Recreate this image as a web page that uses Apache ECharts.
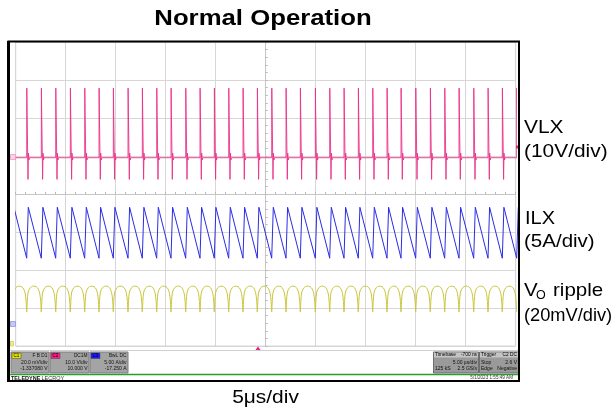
<!DOCTYPE html>
<html><head><meta charset="utf-8">
<script src="https://cdn.jsdelivr.net/npm/echarts@6/dist/echarts.min.js"></script>
<style>html,body{margin:0;padding:0;background:#fff}#c{width:614px;height:415px}</style>
</head><body><div id="c"></div>
<script>
// ---------- data read from the scope screen ----------
// switching instants (us from left edge of graticule, 5 us/div); first and last lie just off-screen
const switchTimes = [-0.34, 1.10, 2.56, 4.00, 5.46, 6.90, 8.33, 9.76, 11.23, 12.66, 14.10, 15.53, 17.00,
  18.43, 19.86, 21.30, 22.73, 24.16, 25.60, 27.03, 28.46, 29.96, 31.40, 32.83, 34.26, 35.70, 37.13,
  38.53, 40.00, 41.46, 42.90, 44.33, 45.80, 47.23, 48.66, 50.10];
// VLX pulse after each switching instant: time offset (us) and level (V)
const vlxPulseOffsets = [0, 0.01, 0.04, 0.11, 0.13, 0.17, 0.22, 0.28];
const vlxPulseVolts   = [0, 18.3, 12.0, 11.5, -5.7, 1.2, -0.6, 0];
// ILX: valley at the switching instant, peak right after it (A)
const ilxValleyAmps = [8.8];
const ilxPeakAmps = [15.5];
const ilxRiseUs = [0.16];
// Vo ripple arch between two switching instants: phase (fraction of period) and level (mV)
const voArchPhase = [0, 0.04, 0.10, 0.25, 0.45, 0.65, 0.80, 0.90, 0.96];
const voArchMilliVolts = [1275.0, 1281.0, 1285.5, 1287.8, 1288.6, 1288.3, 1287.0, 1284.5, 1280.5];
// channel scale / screen-centre values (from readout + trace positions)
const vlxPerDiv = 10, vlxCentre = -9.55;       // V
const ilxPerDiv = 5, ilxCentre = 17.25;        // A
const voPerDiv = 20, voCentre = 1337.08;       // mV
const timeSpanUs = [0, 50];
// texts
const titleText = 'Normal Operation';
const timeScaleText = '5\u03bcs/div';
const c1Readout = ['C1', 'F B D1', '20.0 mV/div', '-1.337080 V'];
const c2Readout = ['C2', 'DC1M', '10.0 V/div', '10.000 V'];
const c3Readout = ['C3', 'BwL DC', '5.00 A/div', '-17.250 A'];
const timebaseReadout = ['Timebase', '-700 ns', '5.00 \u00b5s/div', '125 kS', '2.5 GS/s'];
const triggerReadout = ['Trigger', 'C2 DC', 'Stop', '2.6 V', 'Edge', 'Negative'];
const dateText = '5/1/2023 1:55:49 AM';

// ---------- build polylines ----------
const vlxData = [], ilxData = [], voData = [];
switchTimes.forEach(t => {
  vlxPulseOffsets.forEach((o, j) => vlxData.push([t + o, vlxPulseVolts[j]]));
  ilxData.push([t, ilxValleyAmps[0]]);
  ilxData.push([t + ilxRiseUs[0], ilxPeakAmps[0]]);
});
for (let i = 0; i < switchTimes.length - 1; i++) {
  const t0 = switchTimes[i], T = switchTimes[i + 1] - t0;
  voArchPhase.forEach((p, j) => voData.push([t0 + p * T, voArchMilliVolts[j]]));
}
voData.push([switchTimes[switchTimes.length - 1], voArchMilliVolts[0]]);

const FONT = '"Liberation Sans", Arial, sans-serif';
function txt(text, x, y, size, opts) {
  opts = opts || {};
  return {
    type: 'text', x: x, y: y, scaleX: opts.sx || 1, z: 100, silent: true,
    style: {
      text: text, font: (opts.bold ? 'bold ' : '') + size + 'px ' + FONT,
      fill: opts.color || '#000',
      align: opts.align || 'left', verticalAlign: 'middle',
      textAlign: opts.align || 'left', textVerticalAlign: 'middle'
    }
  };
}
function chBox(x, w, chipColor, lines) {
  const els = [];
  els.push({ type: 'rect', z: 90, shape: { x: x, y: 352, width: w, height: 21 },
    style: { fill: '#a4a4a4', stroke: '#7c7c7c', lineWidth: 1 } });
  els.push({ type: 'rect', z: 91, shape: { x: x + 1, y: 353, width: 9, height: 5.5 },
    style: { fill: chipColor, stroke: '#444', lineWidth: 0.5 } });
  els.push(txt(lines[0], x + 5.5, 355.8, 4.5, { align: 'center', color: '#000' }));
  els.push(txt(lines[1], x + w - 1.5, 355.5, 4.8, { align: 'right', color: '#111' }));
  els.push(txt(lines[2], x + w - 1.5, 363, 5, { align: 'right', color: '#111' }));
  els.push(txt(lines[3], x + w - 1.5, 368.8, 5, { align: 'right', color: '#111' }));
  return els;
}
function infoBox(x, w, lines) {
  const els = [];
  els.push({ type: 'rect', z: 90, shape: { x: x, y: 352, width: w, height: 21 },
    style: { fill: '#9a9a9a', stroke: '#6e6e6e', lineWidth: 1 } });
  els.push({ type: 'rect', z: 91, shape: { x: x + 0.5, y: 352.5, width: w - 1, height: 5 },
    style: { fill: '#c4c4c4' } });
  els.push(txt(lines[0], x + 1.5, 355, 4.8, { color: '#000' }));
  els.push(txt(lines[1], x + w - 1.5, 355, 4.8, { align: 'right', color: '#000' }));
  if (lines.length === 5) {
    els.push(txt(lines[2], x + w - 1.5, 363, 5, { align: 'right', color: '#111' }));
    els.push(txt(lines[3], x + 1.5, 369, 5, { color: '#111' }));
    els.push(txt(lines[4], x + w - 1.5, 369, 5, { align: 'right', color: '#111' }));
  } else {
    els.push(txt(lines[2], x + 1.5, 363, 5, { color: '#111' }));
    els.push(txt(lines[3], x + w - 1.5, 363, 5, { align: 'right', color: '#111' }));
    els.push(txt(lines[4], x + 1.5, 369, 5, { color: '#111' }));
    els.push(txt(lines[5], x + w - 1.5, 369, 5, { align: 'right', color: '#111' }));
  }
  return els;
}

const graphics = [].concat(
  [
    // bottom panel lines
    { type: 'line', z: 80, shape: { x1: 10, y1: 350.5, x2: 518, y2: 350.5 }, style: { stroke: '#d0d0d0', lineWidth: 1 } },
    { type: 'line', z: 80, shape: { x1: 10, y1: 374.5, x2: 518, y2: 374.5 }, style: { stroke: '#2a9d2a', lineWidth: 1.5 } },
    // markers
    { type: 'polygon', z: 95, shape: { points: [[255.5, 350], [258, 346.5], [260.5, 350]] }, style: { fill: '#e8207f' } },
    { type: 'rect', z: 95, shape: { x: 516, y: 145.5, width: 3, height: 3 }, style: { fill: '#e8207f' } },
    { type: 'rect', z: 95, shape: { x: 10.5, y: 154.5, width: 5, height: 5 }, style: { fill: '#fbd3e6', stroke: '#f08cbc', lineWidth: 0.7 } },
    { type: 'rect', z: 95, shape: { x: 10.5, y: 321.5, width: 5, height: 5 }, style: { fill: '#c8c8f4', stroke: '#8a8ae8', lineWidth: 0.7 } },
    { type: 'rect', z: 95, shape: { x: 10.5, y: 341.5, width: 3, height: 4.5 }, style: { fill: '#eeee9a', stroke: '#cccc44', lineWidth: 0.7 } },
    txt('TELEDYNE', 11, 378.5, 5.5, { bold: true, color: '#111' }),
    txt('LECROY', 41.5, 378.5, 5.5, { color: '#333' }),
    txt(dateText, 513, 377.5, 4.6, { align: 'right', color: '#333' })
  ],
  chBox(11, 38, '#e4e400', c1Readout),
  chBox(50, 39, '#ff1a8c', c2Readout),
  chBox(90, 38, '#1a1aff', c3Readout),
  infoBox(433.5, 45, timebaseReadout),
  infoBox(479.5, 39, triggerReadout),
  [
    // outer black frame
    { type: 'rect', z: 120, shape: { x: 8.5, y: 41.5, width: 510.5, height: 339.5 }, style: { fill: 'none', stroke: '#000', lineWidth: 2 } },
    { type: 'line', z: 120, shape: { x1: 8.5, y1: 41, x2: 8.5, y2: 382 }, style: { stroke: '#000', lineWidth: 3 } },
    // title & labels
    txt(titleText, 263, 19, 22, { bold: true, align: 'center', sx: 1.17 }),
    txt(timeScaleText, 265.5, 398, 18.5, { align: 'center', sx: 1.13 }),
    txt('VLX', 524, 127.5, 19, { sx: 1.1 }),
    txt('(10V/div)', 524, 152, 19, { sx: 1.1 }),
    txt('ILX', 525, 218.5, 19, { sx: 1.05 }),
    txt('(5A/div)', 524, 242, 19, { sx: 1.08 }),
    txt('V', 524, 291, 19, { sx: 1.08 }),
    txt('O', 536, 296, 12.5, { sx: 1.0 }),
    txt('ripple', 553, 291, 19, { sx: 1.08 }),
    txt('(20mV/div)', 524, 316, 19, { sx: 0.96 })
  ]
);

const gridLine = '#d6d6d6';
const chart = echarts.init(document.getElementById('c'), null, { renderer: 'canvas' });
chart.setOption({
  animation: false,
  backgroundColor: '#fff',
  grid: { left: 15.7, right: 98.3, top: 42, bottom: 69, show: true, borderColor: gridLine, borderWidth: 1, backgroundColor: '#fff' },
  xAxis: [
    { type: 'value', min: -5, max: 5, interval: 1, position: 'bottom',
      axisLine: { show: true, onZero: true, onZeroAxisIndex: 0, lineStyle: { color: '#c6c6c6', width: 1 } },
      axisTick: { show: true, inside: true, length: 2, lineStyle: { color: '#b8b8b8' } },
      minorTick: { show: true, splitNumber: 5, length: 2, lineStyle: { color: '#b8b8b8' } },
      axisLabel: { show: false },
      splitLine: { show: true, lineStyle: { color: gridLine, width: 1 } } },
    { type: 'value', min: timeSpanUs[0], max: timeSpanUs[1], show: false, position: 'top' }
  ],
  yAxis: [
    { type: 'value', min: -4, max: 4, interval: 1, position: 'left',
      axisLine: { show: true, onZero: true, onZeroAxisIndex: 0, lineStyle: { color: '#c6c6c6', width: 1 } },
      axisTick: { show: true, inside: true, length: 2, lineStyle: { color: '#b8b8b8' } },
      minorTick: { show: true, splitNumber: 5, length: 2, lineStyle: { color: '#b8b8b8' } },
      axisLabel: { show: false },
      splitLine: { show: true, lineStyle: { color: gridLine, width: 1 } } },
    { type: 'value', show: false, min: vlxCentre - 4 * vlxPerDiv, max: vlxCentre + 4 * vlxPerDiv },
    { type: 'value', show: false, min: ilxCentre - 4 * ilxPerDiv, max: ilxCentre + 4 * ilxPerDiv },
    { type: 'value', show: false, min: voCentre - 4 * voPerDiv, max: voCentre + 4 * voPerDiv }
  ],
  series: [
    { name: 'VLX', type: 'line', xAxisIndex: 1, yAxisIndex: 1, data: vlxData, showSymbol: false, symbol: 'none',
      clip: true, lineStyle: { color: '#ea3088', width: 0.9 }, silent: true },
    { name: 'ILX', type: 'line', xAxisIndex: 1, yAxisIndex: 2, data: ilxData, showSymbol: false, symbol: 'none',
      clip: true, lineStyle: { color: '#2b2be6', width: 1 }, silent: true },
    { name: 'Vo ripple', type: 'line', xAxisIndex: 1, yAxisIndex: 3, data: voData, showSymbol: false, symbol: 'none',
      clip: true, smooth: 0.3, lineStyle: { color: '#c9c53a', width: 1 }, silent: true }
  ],
  graphic: { elements: graphics }
});
</script></body></html>
